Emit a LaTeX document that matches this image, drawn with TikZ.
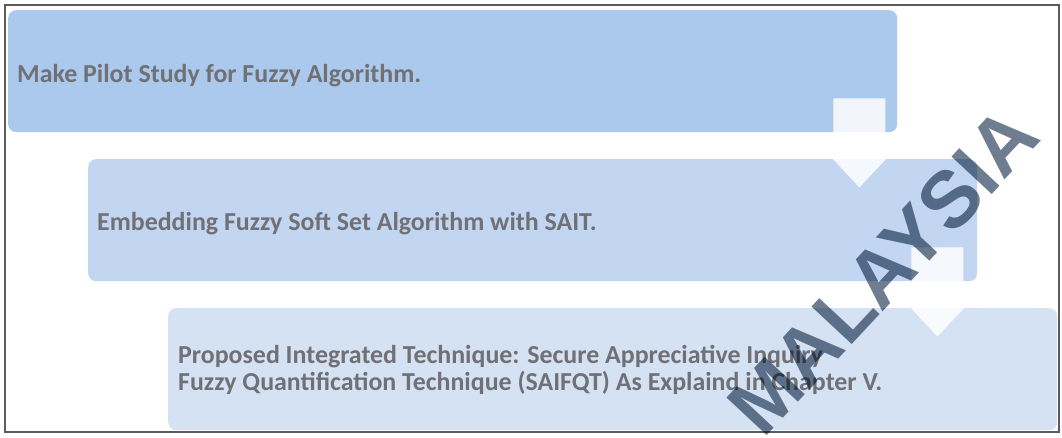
\documentclass[tikz,border=0pt]{standalone}
\usepackage{fontspec}
\setmainfont{Carlito}
\newfontfamily\markfont{Liberation Sans}
\usetikzlibrary{calc}
\definecolor{stageA}{RGB}{170,201,237}
\definecolor{stageB}{RGB}{194,214,241}
\definecolor{stageC}{RGB}{213,226,244}
\definecolor{textgray}{RGB}{112,112,117}
\definecolor{framecol}{RGB}{90,90,95}
\definecolor{markcol}{RGB}{110,126,144}
\tikzset{
  downarrow/.pic={
    \path[flowarrow] (-26,-34) -- (26,-34) -- (26,6) -- (46,6) -- (0,55)
      -- (-46,6) -- (-26,6) -- cycle;
  }
}
\begin{document}
\begin{tikzpicture}[x=1pt,y=-1pt,
  stage/.style={rounded corners=8pt, inner sep=0pt, minimum width=889pt,
    minimum height=122pt, anchor=north west},
  steptext/.style={text=textgray, font=\bfseries\fontsize{25.9}{27}\selectfont,
    inner sep=0pt, align=left},
  flowarrow/.style={fill=white, fill opacity=0.85},
  watermark/.style={text=markcol, font=\markfont\bfseries\fontsize{80}{80}\selectfont,
    inner sep=0pt}
]
\useasboundingbox (0,0) rectangle (1062,438);
\fill[white] (0,0) rectangle (1062,438);

% outer frame
\draw[framecol, line width=1.2pt] (5,5) rectangle (1059,432);

% the three stages of the process
\node[stage, fill=stageA] (s1) at (8,10) {};
\node[stage, fill=stageB] (s2) at (88,159) {};
\node[stage, fill=stageC] (s3) at (168,308) {};

% block arrows leading from one stage to the next
\pic at ($(s1.south east)+(-38,0)$) {downarrow};
\pic at ($(s2.south east)+(-40,0)$) {downarrow};

% stage texts
\node[steptext, anchor=base west] (t1) at ($(s1.west)+(9,11)$)
  {Make Pilot Study for Fuzzy Algorithm.};
\node[steptext, anchor=base west] (t2) at ($(s2.west)+(9,10)$)
  {Embedding Fuzzy Soft Set Algorithm with SAIT.};
\node[steptext, anchor=west] (t3) at ($(s3.west)+(10,1)$)
  {Proposed Integrated Technique: Secure Appreciative Inquiry\\
   Fuzzy Quantification Technique (SAIFQT) As Explaind in Chapter V.};

% diagonal stamp
\begin{scope}[blend mode=multiply]
  \clip (0,0) rectangle (1062,438);
  \node[watermark, rotate=47] (wm) at (883,271) {MALAYSIA};
\end{scope}
\end{tikzpicture}
\end{document}
